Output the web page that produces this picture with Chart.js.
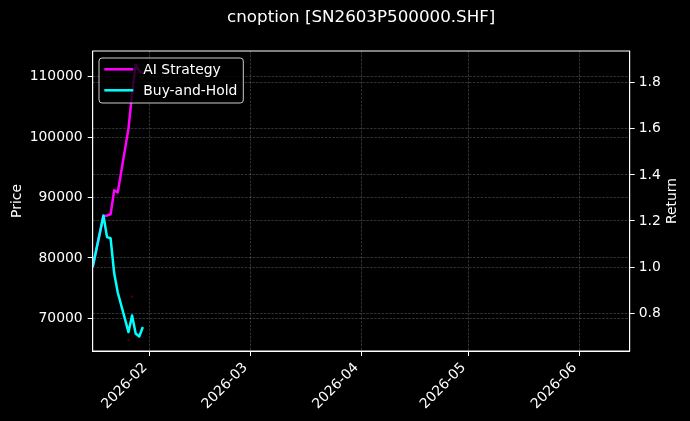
<!DOCTYPE html>
<html>
<head>
<meta charset="utf-8">
<script src="https://cdn.jsdelivr.net/npm/chart.js@4.4.1/dist/chart.umd.min.js"></script>
<style>
    html, body { margin: 0; padding: 0; background: #000; }
    canvas { display: block; }
</style>
</head>
<body>
<canvas id="chart" width="690" height="421"></canvas>
<script>
const TITLE = 'cnoption [SN2603P500000.SHF]';

// trading days and returns
const dates = ['2026-01-16', '2026-01-19', '2026-01-20', '2026-01-21', '2026-01-22', '2026-01-23',
               '2026-01-26', '2026-01-27', '2026-01-28', '2026-01-29', '2026-01-30'];
const aiStrategy = [1.0, 1.22, 1.224, 1.229, 1.333, 1.324, 1.602, 1.753, 1.878, 1.85, 1.84];
const buyAndHold = [1.0, 1.224, 1.13, 1.125, 0.973, 0.89, 0.718, 0.79, 0.712, 0.699, 0.74];

// faint trade marks on the price axis
const signalDates = ['2026-01-26', '2026-01-27'];
const signalPrices = [66400, 73600];

const legendOrder = ['AI Strategy', 'Buy-and-Hold'];
const monthTicks = ['2026-02-01', '2026-03-01', '2026-04-01', '2026-05-01', '2026-06-01'];
const priceTicks = [70000, 80000, 90000, 100000, 110000];
const returnTicks = [0.8, 1.0, 1.2, 1.4, 1.6, 1.8];
const dateRange = ['2026-01-16', '2026-06-15'];
const priceRange = [64586, 114255];
const returnRange = [0.636, 1.9375];

const FONT = 'DejaVu Sans';
Chart.defaults.font.family = FONT;
Chart.defaults.color = '#fff';

const ts = s => Date.parse(s + 'T00:00:00Z');
const fmtMonth = v => {
    const d = new Date(v);
    return d.getUTCFullYear() + '-' + String(d.getUTCMonth() + 1).padStart(2, '0');
};

const gridOpts = { color: 'rgba(255,255,255,0.28)', lineWidth: 0.7, tickColor: '#fff', tickLength: 5, tickWidth: 1 };
const borderOpts = { display: true, color: '#fff', width: 1, dash: [2.6, 1.2] };
const tickFont = { size: 13.9 };

const framePlugin = {
    id: 'frame',
    beforeDraw(chart) {
        const ctx = chart.ctx;
        ctx.save();
        ctx.fillStyle = '#000';
        ctx.fillRect(0, 0, chart.width, chart.height);
        ctx.restore();
    },
    afterDraw(chart) {
        const { ctx, chartArea: a } = chart;
        ctx.save();
        ctx.strokeStyle = '#fff';
        ctx.lineWidth = 1;
        ctx.strokeRect(a.left, a.top, a.right - a.left, a.bottom - a.top);

        // title centred over the plot area
        ctx.fillStyle = '#fff';
        ctx.font = '16.7px "' + FONT + '"';
        ctx.textAlign = 'center';
        ctx.textBaseline = 'middle';
        ctx.fillText(TITLE, (a.left + a.right) / 2, 18);

        // right axis title, read bottom to top like the left one
        ctx.font = '13.9px "' + FONT + '"';
        ctx.save();
        ctx.translate(chart.width - 17.5, (a.top + a.bottom) / 2);
        ctx.rotate(-Math.PI / 2);
        ctx.fillText('Return', 0, 0);
        ctx.restore();

        // date labels turned 45 degrees, right end hanging under the tick
        const xs = chart.scales.x;
        ctx.textAlign = 'right';
        ctx.textBaseline = 'alphabetic';
        xs.ticks.forEach(t => {
            const px = xs.getPixelForValue(t.value);
            ctx.save();
            ctx.translate(px - 2.3, a.bottom + 9.7 + 7.4);
            ctx.rotate(-Math.PI / 4);
            ctx.fillText(fmtMonth(t.value), 0, 0);
            ctx.restore();
        });

        // legend box in the upper left corner
        const items = legendOrder.map(l => chart.data.datasets.find(d => d.label === l));
        const bx = a.left + 6.3, by = a.top + 7, bw = 144.3, bh = 45;
        ctx.beginPath();
        ctx.roundRect(bx, by, bw, bh, 3);
        ctx.fillStyle = 'rgba(0,0,0,0.8)';
        ctx.fill();
        ctx.strokeStyle = '#ccc';
        ctx.lineWidth = 1;
        ctx.stroke();
        ctx.textAlign = 'left';
        ctx.textBaseline = 'middle';
        items.forEach((d, i) => {
            const y = by + 11.3 + i * 21;
            ctx.strokeStyle = d.borderColor;
            ctx.lineWidth = 2.5;
            ctx.beginPath();
            ctx.moveTo(bx + 5.3, y);
            ctx.lineTo(bx + 34.3, y);
            ctx.stroke();
            ctx.fillStyle = '#fff';
            ctx.fillText(d.label, bx + 44.3, y + 0.8);
        });
        ctx.restore();
    }
};

new Chart(document.getElementById('chart'), {
    type: 'line',
    data: {
        datasets: [
            {
                label: 'Buy-and-Hold', order: 0, yAxisID: 'ret',
                data: dates.map((d, i) => ({ x: ts(d), y: buyAndHold[i] })),
                borderColor: '#00ffff', borderWidth: 2.5, pointRadius: 0, tension: 0, borderJoinStyle: 'round'
            },
            {
                label: 'AI Strategy', order: 1, yAxisID: 'ret',
                data: dates.map((d, i) => ({ x: ts(d), y: aiStrategy[i] })),
                borderColor: '#ff00ff', borderWidth: 2.5, pointRadius: 0, tension: 0, borderJoinStyle: 'round'
            },
            {
                type: 'scatter', label: 'signals', order: 2, yAxisID: 'price',
                data: signalDates.map((d, i) => ({ x: ts(d), y: signalPrices[i] })),
                backgroundColor: 'rgba(150,0,0,0.45)', borderWidth: 0, pointRadius: 1.3
            }
        ]
    },
    options: {
        responsive: false,
        animation: false,
        layout: { padding: { top: 51, left: 0, right: 0, bottom: 0 } },
        plugins: { legend: { display: false }, title: { display: false }, tooltip: { enabled: false } },
        scales: {
            x: {
                type: 'linear',
                min: ts(dateRange[0]), max: ts(dateRange[1]),
                afterBuildTicks: s => { s.ticks = monthTicks.map(m => ({ value: ts(m) })); },
                afterFit: s => { s.height = 70; },
                ticks: { display: false, callback: fmtMonth, autoSkip: false },
                grid: gridOpts, border: borderOpts
            },
            price: {
                type: 'linear', position: 'left',
                min: priceRange[0], max: priceRange[1],
                afterBuildTicks: s => { s.ticks = priceTicks.map(v => ({ value: v })); },
                afterFit: s => { s.width = 92.7; },
                ticks: { callback: v => String(v), color: '#fff', font: tickFont, padding: 5 },
                title: { display: true, text: 'Price', color: '#fff', font: { size: 13.9 }, padding: { top: 9, bottom: 0 } },
                grid: gridOpts, border: borderOpts
            },
            ret: {
                type: 'linear', position: 'right',
                min: returnRange[0], max: returnRange[1],
                afterBuildTicks: s => { s.ticks = returnTicks.map(v => ({ value: v })); },
                afterFit: s => { s.width = 60.3; },
                ticks: { callback: v => v.toFixed(1), color: '#fff', font: tickFont, padding: 4 },
                grid: gridOpts, border: borderOpts
            }
        }
    },
    plugins: [framePlugin]
});
</script>
</body>
</html>
